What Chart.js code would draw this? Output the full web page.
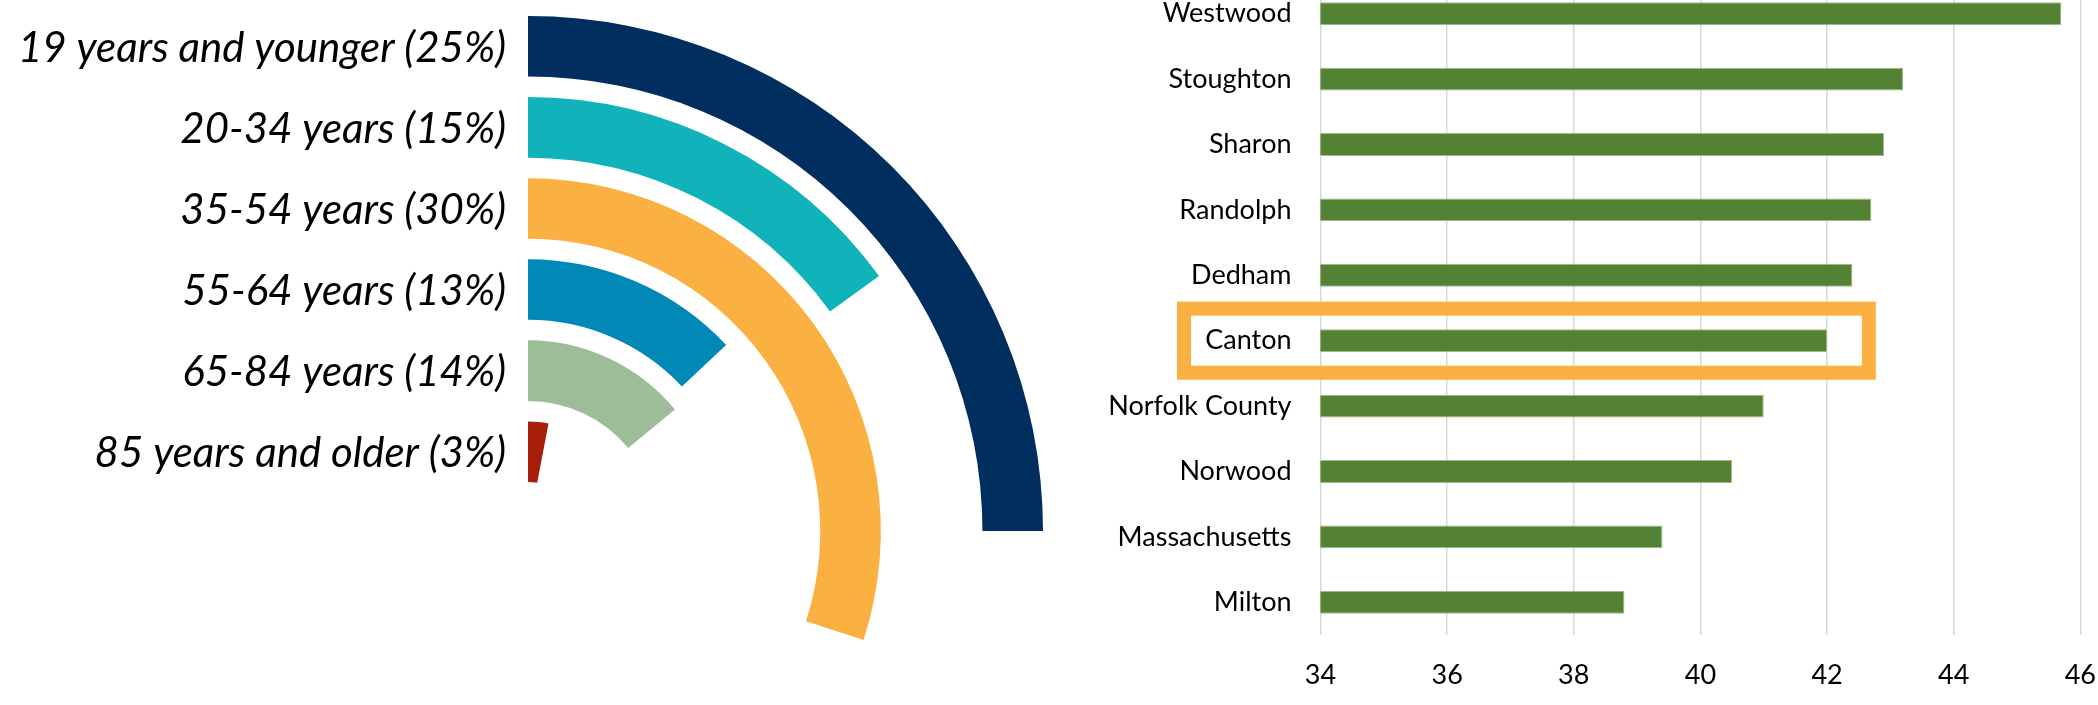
<!DOCTYPE html>
<html>
<head>
<meta charset="utf-8">
<script src="https://cdn.jsdelivr.net/npm/chart.js@4"></script>
<style>
  html, body { margin: 0; padding: 0; background: #fff; overflow: hidden; width: 2098px; height: 705px; }
  #age-chart { position: absolute; left: 0; top: 0; }
  #median-chart { position: absolute; left: 1060px; top: -40px; }
</style>
</head>
<body>
<canvas id="age-chart" width="1043" height="1046"></canvas>
<canvas id="median-chart" width="1060" height="745"></canvas>
<script>
// age distribution (left rings)
const ageGroups = ["19 years and younger", "20-34 years", "35-54 years", "55-64 years", "65-84 years", "85 years and older"];
const ageShares = [25, 15, 30, 13, 14, 3];
const ageColors = ["#002f5f", "#11b3bb", "#fbb042", "#0088b7", "#9cbd97", "#a61e0a"];

// median age by place (right bars)
const places = ["Westwood", "Stoughton", "Sharon", "Randolph", "Dedham", "Canton", "Norfolk County", "Norwood", "Massachusetts", "Milton"];
const medianAge = [45.7, 43.2, 42.9, 42.7, 42.4, 42.0, 41.0, 40.5, 39.4, 38.8];
const ageTicks = [34, 36, 38, 40, 42, 44, 46];
const highlighted = "Canton";

const clear = "rgba(0,0,0,0)";

// one ring per age group, with thin empty rings between them
const ringDatasets = [];
ageShares.forEach((share, i) => {
  if (i > 0) {
    ringDatasets.push({ data: [100], backgroundColor: [clear], weight: 20.5, isGap: true });
  }
  ringDatasets.push({
    label: ageGroups[i],
    data: [share, 100 - share],
    backgroundColor: [ageColors[i], clear],
    weight: 60.5
  });
});

const ringLabels = {
  id: "ringLabels",
  afterDatasetsDraw(chart) {
    const ctx = chart.ctx;
    ctx.save();
    ctx.font = "italic 42px Lato";
    ctx.fillStyle = "#000";
    ctx.textAlign = "right";
    ctx.textBaseline = "middle";
    chart.data.datasets.forEach((ds, i) => {
      if (ds.isGap) return;
      const arc = chart.getDatasetMeta(i).data[0];
      const y = arc.y - (arc.outerRadius + arc.innerRadius) / 2;
      ctx.fillText(ds.label + " (" + ds.data[0] + "%)", arc.x - 22, y + 2);
    });
    ctx.restore();
  }
};

new Chart(document.getElementById("age-chart"), {
  type: "doughnut",
  data: { labels: ["share", "rest"], datasets: ringDatasets },
  options: {
    responsive: false,
    animation: false,
    cutout: (49 / 515 * 100) + "%",
    borderWidth: 0,
    layout: { padding: { left: 13, top: 16 } },
    plugins: { legend: { display: false }, tooltip: { enabled: false } }
  },
  plugins: [ringLabels]
});

const highlightBox = {
  id: "highlightBox",
  afterDatasetsDraw(chart) {
    const { ctx, chartArea, scales: { x, y } } = chart;
    const idx = places.indexOf(highlighted);
    const step = y.getPixelForValue(1) - y.getPixelForValue(0);
    const cy = y.getPixelForValue(idx);
    const left = chartArea.left - 136.5;
    const right = x.getPixelForValue(42.66);
    ctx.save();
    ctx.strokeStyle = "#fbb042";
    ctx.lineWidth = 14;
    ctx.strokeRect(left, cy - step * 0.49, right - left, step * 0.98);
    ctx.restore();
  }
};

const tickFont = { family: "Lato", size: 27 };

new Chart(document.getElementById("median-chart"), {
  type: "bar",
  data: {
    labels: places,
    datasets: [{
      data: medianAge,
      backgroundColor: "#548235",
      borderColor: "#9dbb8a",
      borderWidth: 1,
      barPercentage: 0.35,
      categoryPercentage: 1
    }]
  },
  options: {
    indexAxis: "y",
    responsive: false,
    animation: false,
    layout: { padding: { top: 21, right: 36.5, bottom: 0, left: 0 } },
    plugins: { legend: { display: false }, tooltip: { enabled: false } },
    scales: {
      x: {
        min: ageTicks[0],
        max: ageTicks[ageTicks.length - 1],
        ticks: { stepSize: ageTicks[1] - ageTicks[0], padding: 24, color: "#000", font: tickFont },
        grid: { color: "#d9d9d9", lineWidth: 1.5, drawTicks: false },
        border: { display: false },
        afterFit(s) { s.height = 70; }
      },
      y: {
        ticks: { padding: 29, color: "#000", font: tickFont },
        grid: { display: false, drawTicks: false },
        border: { display: false },
        afterFit(s) {
          s.width = 260.5;
          s.paddingTop = 0;
          s.paddingBottom = 0;
        }
      }
    }
  },
  plugins: [highlightBox]
});
</script>
</body>
</html>
